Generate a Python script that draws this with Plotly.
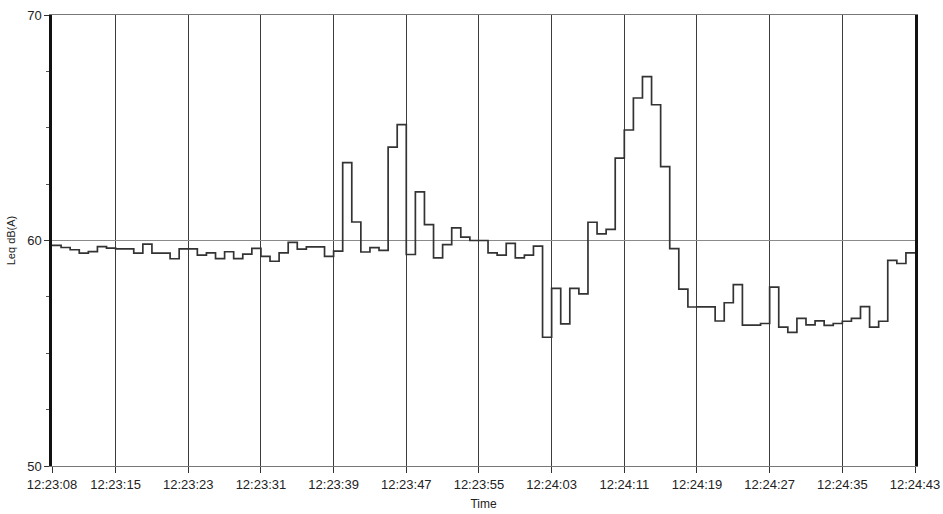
import plotly.graph_objects as go

# seconds since 12:23:08, one Leq value per second (step)
seconds = list(range(0, 96))
leq = [
    59.78, 59.69, 59.59, 59.44, 59.51, 59.73, 59.66, 59.63, 59.63, 59.44,
    59.84, 59.44, 59.44, 59.19, 59.63, 59.63, 59.35, 59.45, 59.20, 59.50,
    59.20, 59.40, 59.65, 59.30, 59.08, 59.45, 59.92, 59.62, 59.72, 59.72,
    59.30, 59.53, 63.45, 60.82, 59.49, 59.68, 59.56, 64.14, 65.14, 59.38,
    62.16, 60.70, 59.23, 59.82, 60.56, 60.15, 60.00, 60.00, 59.45, 59.35,
    59.87, 59.23, 59.35, 59.75, 55.71, 57.88, 56.30, 57.88, 57.63, 60.81,
    60.29, 60.49, 63.65, 64.90, 66.32, 67.27, 66.02, 63.28, 59.64, 57.84,
    57.05, 57.06, 57.06, 56.43, 57.24, 58.04, 56.25, 56.25, 56.32, 57.93,
    56.16, 55.93, 56.55, 56.26, 56.44, 56.24, 56.32, 56.42, 56.55, 57.07,
    56.16, 56.42, 59.12, 58.98, 59.45,
]
leq_steps = leq + [leq[-1]]

tick_seconds = [0, 7, 15, 23, 31, 39, 47, 55, 63, 71, 79, 87, 95]
tick_labels = ["12:23:08", "12:23:15", "12:23:23", "12:23:31", "12:23:39",
               "12:23:47", "12:23:55", "12:24:03", "12:24:11", "12:24:19",
               "12:24:27", "12:24:35", "12:24:43"]
y_ticks = [50, 60, 70]

fig = go.Figure()
fig.add_trace(go.Scatter(
    x=seconds, y=leq_steps, mode="lines", line_shape="hv",
    line=dict(color="#333333", width=1.7), showlegend=False,
))

fig.update_layout(
    width=943, height=514,
    margin=dict(l=52, r=28, t=15, b=48),
    paper_bgcolor="white", plot_bgcolor="white",
    font=dict(family="Liberation Sans, Arial, sans-serif", size=13, color="#222"),
)
fig.update_xaxes(
    range=[0, 95], tickmode="array", tickvals=tick_seconds, ticktext=tick_labels,
    showgrid=True, gridcolor="#3c3c3c", gridwidth=1.2,
    showline=True, linecolor="#777", linewidth=1, mirror=True,
    ticks="outside", ticklen=6, tickcolor="#333",
    tickfont=dict(size=13), automargin=False,
    title=dict(text="Time", font=dict(size=12), standoff=9),
    zeroline=False,
)
fig.update_yaxes(
    range=[50, 70], tickmode="array", tickvals=y_ticks,
    showgrid=True, gridcolor="#8a8a8a", gridwidth=1.2,
    showline=True, linecolor="#111", linewidth=2.5, mirror=True,
    ticks="outside", ticklen=5, tickcolor="#333",
    minor=dict(tickvals=[52.5, 55, 57.5, 62.5, 65, 67.5], ticks="outside",
               ticklen=3, tickcolor="#555", showgrid=False),
    tickfont=dict(size=13), automargin=False,
    title=dict(text="Leq dB(A)", font=dict(size=11), standoff=10),
    zeroline=False,
)

fig.write_html("out.html", config={"displayModeBar": False},
               post_script="document.body.style.margin='0px';")
